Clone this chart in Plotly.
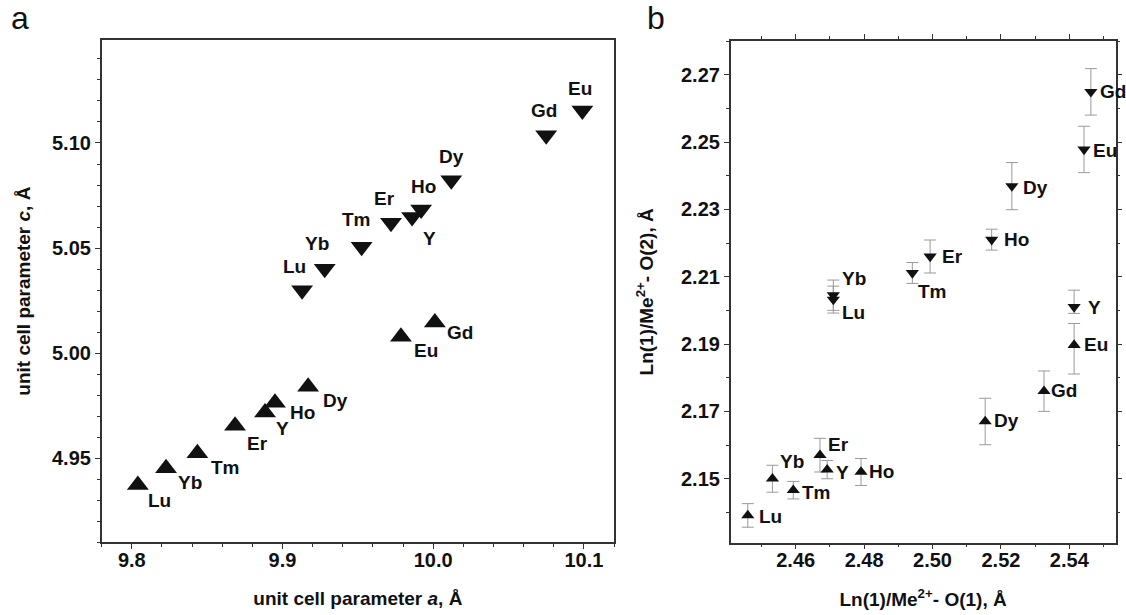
import plotly.graph_objects as go

# ---------------- Data: panel a (unit cell parameters) ----------------
a_down_labels = ["Lu", "Yb", "Tm", "Er", "Y", "Ho", "Dy", "Gd", "Eu"]
a_down_a = [9.913, 9.928, 9.9525, 9.972, 9.986, 9.992, 10.012, 10.075, 10.099]
a_down_c = [5.0299, 5.0402, 5.0506, 5.0620, 5.0648, 5.0683, 5.0823, 5.1037, 5.1154]

a_up_labels = ["Lu", "Yb", "Tm", "Er", "Y", "Ho", "Dy", "Eu", "Gd"]
a_up_a = [9.804, 9.8227, 9.8435, 9.8685, 9.8884, 9.895, 9.917, 9.9786, 10.0011]
a_up_c = [4.9373, 4.9452, 4.9524, 4.9654, 4.9718, 4.9764, 4.9840, 5.0078, 5.0146]

# ---------------- Data: panel b (bond distances) ----------------
b_down_labels = ["Lu", "Yb", "Tm", "Er", "Ho", "Dy", "Y", "Eu", "Gd"]
b_down_x = [2.471, 2.471, 2.4941, 2.4993, 2.5173, 2.5232, 2.5414, 2.5443, 2.5463]
b_down_y = [2.2032, 2.2045, 2.2111, 2.2160, 2.2210, 2.2369, 2.2010, 2.2478, 2.2649]
b_down_err_plus = [0.0040, 0.0045, 0.0031, 0.0049, 0.0031, 0.0070, 0.0050, 0.0069, 0.0069]
b_down_err_minus = [0.0040, 0.0045, 0.0031, 0.0049, 0.0031, 0.0070, 0.0019, 0.0069, 0.0069]

b_up_labels = ["Lu", "Yb", "Tm", "Er", "Y", "Ho", "Dy", "Gd", "Eu"]
b_up_x = [2.446, 2.4532, 2.4593, 2.4671, 2.4692, 2.4791, 2.5154, 2.5326, 2.5414]
b_up_y = [2.1391, 2.1500, 2.1466, 2.1570, 2.1527, 2.1520, 2.1670, 2.1760, 2.1897]
b_up_err_plus = [0.0035, 0.0040, 0.0026, 0.0050, 0.0027, 0.0040, 0.0069, 0.0060, 0.0064]
b_up_err_minus = [0.0035, 0.0040, 0.0026, 0.0050, 0.0027, 0.0040, 0.0069, 0.0060, 0.0086]

# ---------------- Styling / label placement (pixels) ----------------
FONT = "Liberation Sans, Arial, sans-serif"
W, H = 1126, 615
a_down_off = [(-8, 24), (-8, 25), (-5, 27), (-7, 24), (17, -22), (2, 23), (0, 24), (-2, 25), (-2, 22)]
a_up_off = [(22, -16), (24, -14), (28, -14), (22, -18), (17, -16), (28, -10), (27, -14), (25, -14), (25, -10)]
b_down_off = [(7, -13), (7, 17), (4, -19), (10, 0), (10, 0), (9, -1), (12, 0), (7, -1), (7, 0)]
b_up_off = [(9, -1), (6, 17), (7, -2), (6, 11), (7, -3), (6, 0), (7, 1), (5, 1), (8, 1)]

def px_dom(lo, hi, total):
    return [lo / total, hi / total]

fig = go.Figure()

mk = dict(color="#111111")
fig.add_trace(go.Scatter(x=a_down_a, y=a_down_c, mode="markers", name="c down",
                         marker=dict(symbol="triangle-down", size=19, **mk),
                         xaxis="x", yaxis="y", showlegend=False))
fig.add_trace(go.Scatter(x=a_up_a, y=a_up_c, mode="markers", name="c up",
                         marker=dict(symbol="triangle-up", size=19, **mk),
                         xaxis="x", yaxis="y", showlegend=False))

eb = dict(type="data", symmetric=False, color="#9a9a9a", thickness=1, width=6)
fig.add_trace(go.Scatter(x=b_down_x, y=b_down_y, mode="markers", name="O(2) down",
                         error_y=dict(array=b_down_err_plus, arrayminus=b_down_err_minus, **eb),
                         marker=dict(symbol="triangle-down", size=11.5, **mk),
                         xaxis="x2", yaxis="y2", showlegend=False))
fig.add_trace(go.Scatter(x=b_up_x, y=b_up_y, mode="markers", name="O(2) up",
                         error_y=dict(array=b_up_err_plus, arrayminus=b_up_err_minus, **eb),
                         marker=dict(symbol="triangle-up", size=11.5, **mk),
                         xaxis="x2", yaxis="y2", showlegend=False))

annotations = []
lab_font = dict(family=FONT, size=19, color="#111111", weight="bold")
for lab, x, y, (dx, dy) in zip(a_down_labels, a_down_a, a_down_c, a_down_off):
    annotations.append(dict(x=x, y=y, xref="x", yref="y", text=lab, showarrow=False,
                            xshift=dx, yshift=dy, xanchor="center", yanchor="middle", font=lab_font))
for lab, x, y, (dx, dy) in zip(a_up_labels, a_up_a, a_up_c, a_up_off):
    annotations.append(dict(x=x, y=y, xref="x", yref="y", text=lab, showarrow=False,
                            xshift=dx, yshift=dy, xanchor="center", yanchor="middle", font=lab_font))
for lab, x, y, (dx, dy) in zip(b_down_labels, b_down_x, b_down_y, b_down_off):
    annotations.append(dict(x=x, y=y, xref="x2", yref="y2", text=lab, showarrow=False,
                            xshift=dx, yshift=dy, xanchor="left", yanchor="middle", font=lab_font))
for lab, x, y, (dx, dy) in zip(b_up_labels, b_up_x, b_up_y, b_up_off):
    annotations.append(dict(x=x, y=y, xref="x2", yref="y2", text=lab, showarrow=False,
                            xshift=dx, yshift=dy, xanchor="left", yanchor="middle", font=lab_font))

# panel letters
annotations.append(dict(x=20 / W, y=1, xref="paper", yref="paper", text="a", showarrow=False,
                        xanchor="center", yanchor="top", yshift=2,
                        font=dict(family=FONT, size=32, color="#111111")))
annotations.append(dict(x=655.5 / W, y=1, xref="paper", yref="paper", text="b", showarrow=False,
                        xanchor="center", yanchor="top", yshift=2,
                        font=dict(family=FONT, size=32, color="#111111")))

tickfont = dict(family=FONT, size=20, color="#111111", weight="bold")
titlefont = dict(family=FONT, size=19, color="#111111", weight="bold")
axis_common = dict(showgrid=False, zeroline=False, showline=True, linecolor="#333333", linewidth=1.5,
                   ticks="outside", ticklen=5, tickwidth=1, tickcolor="#333333", tickfont=tickfont)

fig.update_layout(
    width=W, height=H, autosize=False,
    margin=dict(l=0, r=0, t=0, b=0),
    paper_bgcolor="white", plot_bgcolor="white",
    showlegend=False,
    xaxis=dict(domain=px_dom(101.7, 614, W), range=[9.78, 10.12], tick0=9.8, dtick=0.1, tickformat=".1f",
               mirror=True, anchor="y", ticklabelstandoff=-6,
               minor=dict(dtick=0.02, ticks="outside", ticklen=3, tickcolor="#333333"),
               title=dict(text="unit cell parameter <i>a</i>, Å", font=titlefont, standoff=22),
               **axis_common),
    yaxis=dict(domain=[1 - 542.3 / H, 1 - 40 / H], range=[4.91, 5.149], tick0=4.95, dtick=0.05, tickformat=".2f",
               mirror=True, anchor="x",
               minor=dict(dtick=0.01, ticks="outside", ticklen=3, tickcolor="#333333"),
               title=dict(text="unit cell parameter <i>c</i>, Å", font=titlefont, standoff=16),
               **axis_common),
    xaxis2=dict(domain=px_dom(730.7, 1115.5, W), range=[2.441, 2.5535], tick0=2.46, dtick=0.02, tickformat=".2f",
                mirror="allticks", anchor="y2", ticklabelstandoff=-6,
                minor=dict(dtick=0.01, ticks="outside", ticklen=3, tickcolor="#333333"),
                title=dict(text="Ln(1)/Me<sup>2+</sup>- O(1), Å", font=titlefont, standoff=22),
                **axis_common),
    yaxis2=dict(domain=[1 - 542.7 / H, 1 - 41 / H], range=[2.131, 2.28], tick0=2.15, dtick=0.02, tickformat=".2f",
                mirror="allticks", anchor="x2",
                minor=dict(dtick=0.01, ticks="outside", ticklen=3, tickcolor="#333333"),
                title=dict(text="Ln(1)/Me<sup>2+</sup>- O(2), Å", font=titlefont, standoff=22),
                **axis_common),
    annotations=annotations,
)

fig.write_html("out.html")
